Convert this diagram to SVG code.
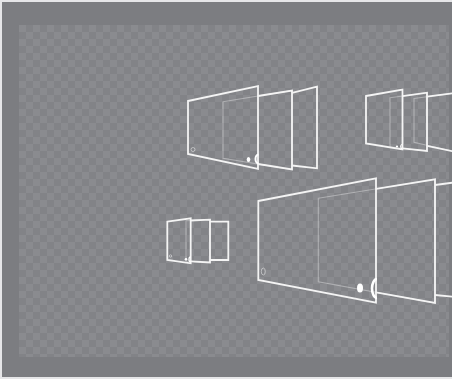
<svg xmlns="http://www.w3.org/2000/svg" width="452" height="379" viewBox="0 0 452 379">
  <defs>
    <pattern id="checker" x="19" y="25" width="14" height="14" patternUnits="userSpaceOnUse">
      <rect width="14" height="14" fill="#828387"/>
      <rect width="7" height="7" fill="#8a8b8f"/>
      <rect x="7" y="7" width="7" height="7" fill="#8a8b8f"/>
    </pattern>
    <style>
      .solid { fill: none; stroke: #f4f4f4; stroke-width: 1.8; stroke-linejoin: miter; }
      .faint { fill: none; stroke: #ffffff; stroke-opacity: 0.35; stroke-width: 1.1; }
      .dot { fill: #ffffff; stroke: none; }
      .arc { fill: none; stroke: #ffffff; stroke-width: 2; }
      .ring { fill: none; stroke: #ffffff; stroke-opacity: 0.45; stroke-width: 1; }
    </style>
  </defs>

  <!-- background -->
  <rect x="0" y="0" width="452" height="379" fill="#e6e6e8"/>
  <rect x="2" y="2" width="450" height="375" fill="#7c7d81"/>
  <rect x="19" y="25" width="430" height="332" fill="url(#checker)"/>

  <!-- group A: top centre -->
  <g id="groupA">
    <polyline class="solid" points="292,92.9 317,86.7 317,168.3 292,165.5"/>
    <polygon class="faint" points="223,101.7 292,90.5 292,169.5 223,158.3"/>
    <polyline class="solid" points="258,96 292,90.5 292,169.5 258,164"/>
    <polygon class="solid" points="188,101 258,86 258,169 188,154"/>
    <circle class="ring" cx="193" cy="149.5" r="2"/>
    <ellipse class="dot" cx="248.5" cy="159.5" rx="1.8" ry="2.6"/>
    <path class="arc" d="M258.5,154.5 A3,4.5 0 0 0 258.5,163.5"/>
  </g>

  <!-- group B: top right -->
  <g id="groupB">
    <polygon class="faint" points="414,98.5 470,91 470,155 414,142.4"/>
    <polyline class="solid" points="427,96.7 470,91"/>
    <polyline class="solid" points="427,145.8 470,155"/>
    <polygon class="faint" points="390,97.8 427,92.7 427,151 390,147"/>
    <polyline class="solid" points="402.5,96.1 427,92.7 427,151 402.5,148.4"/>
    <polygon class="solid" points="366,96 402.5,89.5 402.5,149.5 366,143.5"/>
    <circle class="dot" cx="397" cy="146.5" r="1.1"/>
    <path class="arc" d="M402,144.5 A1.3,2 0 0 0 402,148.5" style="stroke-width:1.2"/>
  </g>

  <!-- group C: middle left -->
  <g id="groupC">
    <polyline class="solid" points="210,221.7 228.3,221.7 228.3,260 210,260"/>
    <polygon class="faint" points="186,220.8 210,219.7 210,262.5 186,261"/>
    <polyline class="solid" points="190.7,220.5 210,219.7 210,262.5 190.7,261.3"/>
    <polygon class="solid" points="167.3,221.7 190.7,218.3 190.7,263.3 167.3,260"/>
    <circle class="ring" cx="170.5" cy="256" r="1.2"/>
    <circle class="dot" cx="186" cy="259.3" r="1.3"/>
    <path class="arc" d="M190.5,256.8 A1.5,2.5 0 0 0 190.5,261.8" style="stroke-width:1.3"/>
  </g>

  <!-- group D: large -->
  <g id="groupD">
    <polyline class="solid" points="435,185 470,180.3"/>
    <polyline class="solid" points="435,295 470,298.5"/>
    <polygon class="faint" points="318.3,198.3 435,179.3 435,303 318.3,281.7"/>
    <polyline class="solid" points="376,188.9 435,179.3 435,303 376,292.3"/>
    <polygon class="solid" points="258.3,201 376,178.3 376,302.7 258.3,280"/>
    <ellipse class="ring" cx="263.3" cy="271.5" rx="2" ry="3.5"/>
    <ellipse class="dot" cx="360" cy="288" rx="3" ry="4.5"/>
    <path class="arc" d="M377,279 A5,9.5 0 0 0 377,298" style="stroke-width:2.6"/>
  </g>
</svg>
